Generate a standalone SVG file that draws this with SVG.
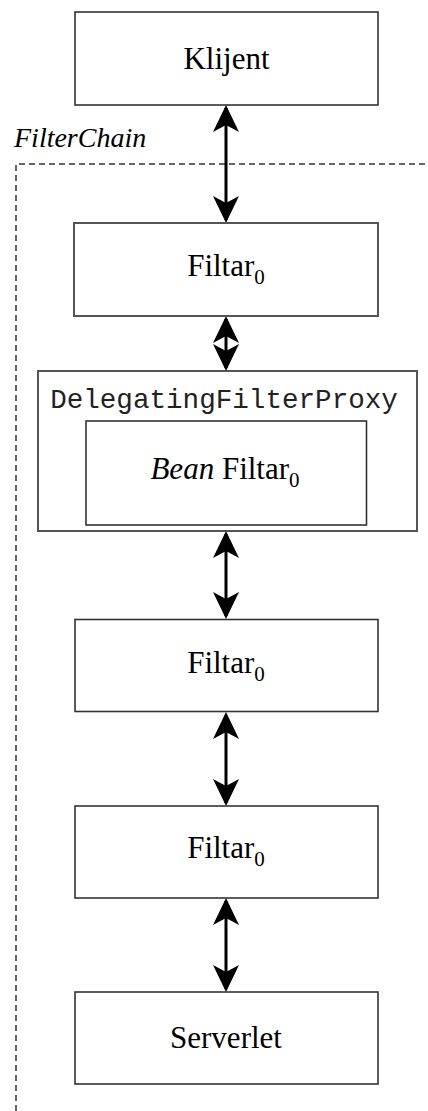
<svg xmlns="http://www.w3.org/2000/svg" width="428" height="1111" viewBox="0 0 428 1111">
<style>
.box{fill:#fff;stroke:#333;stroke-width:1.6}
.box2{fill:#fff;stroke:#555;stroke-width:2}
.t{font-family:"Liberation Serif","Times New Roman",serif;font-size:31px;fill:#000;text-anchor:middle}
.sub{font-size:21px}
.mono{font-family:"Liberation Mono","Courier New",monospace;font-size:27.6px;fill:#222;text-anchor:middle}
.conn{stroke:#000;stroke-width:3;fill:none;marker-start:url(#ah);marker-end:url(#ah)}
.dash{stroke:#333;stroke-width:1.5;fill:none;stroke-dasharray:6 4}
</style>
<defs>
<marker id="ah" viewBox="0 0 27 26" refX="24" refY="13" markerWidth="27" markerHeight="26" markerUnits="userSpaceOnUse" orient="auto-start-reverse">
<path d="M0,0 L27,13 L0,26 L7,13 z" fill="#000"/>
</marker>
</defs>
<g id="filterchain">
<path class="dash" d="M16,1111 L16,164 L428,164"/>
<text x="14" y="147" style="font-family:'Liberation Serif','Times New Roman',serif;font-size:28px;font-style:italic;fill:#000">FilterChain</text>
</g>
<g id="connectors">
<line class="conn" x1="226" y1="108" x2="226" y2="220"/>
<line class="conn" x1="226" y1="319" x2="226" y2="368"/>
<line class="conn" x1="226" y1="534" x2="226" y2="616"/>
<line class="conn" x1="226" y1="715" x2="226" y2="803"/>
<line class="conn" x1="226" y1="901" x2="226" y2="989"/>
</g>
<g id="klijent">
<rect class="box" x="75" y="12" width="303" height="93"/>
<text class="t" x="226.5" y="69">Klijent</text>
</g>
<g id="filtar1">
<rect class="box2" x="74" y="223" width="304" height="93"/>
<text class="t" x="226" y="276">Filtar<tspan class="sub" dy="8">0</tspan></text>
</g>
<g id="proxy">
<rect class="box2" x="38" y="371" width="379" height="160"/>
<text class="mono" x="224" y="408">DelegatingFilterProxy</text>
</g>
<g id="bean">
<rect class="box" x="86" y="421" width="280.5" height="104"/>
<text class="t" x="225" y="479"><tspan font-style="italic">Bean</tspan> Filtar<tspan class="sub" dy="8">0</tspan></text>
</g>
<g id="filtar2">
<rect class="box" x="75" y="619.5" width="303" height="92"/>
<text class="t" x="226" y="673">Filtar<tspan class="sub" dy="8">0</tspan></text>
</g>
<g id="filtar3">
<rect class="box" x="75" y="806" width="303" height="92"/>
<text class="t" x="226" y="858">Filtar<tspan class="sub" dy="8">0</tspan></text>
</g>
<g id="serverlet">
<rect class="box" x="75" y="992" width="303" height="92"/>
<text class="t" x="226" y="1048">Serverlet</text>
</g>
</svg>
